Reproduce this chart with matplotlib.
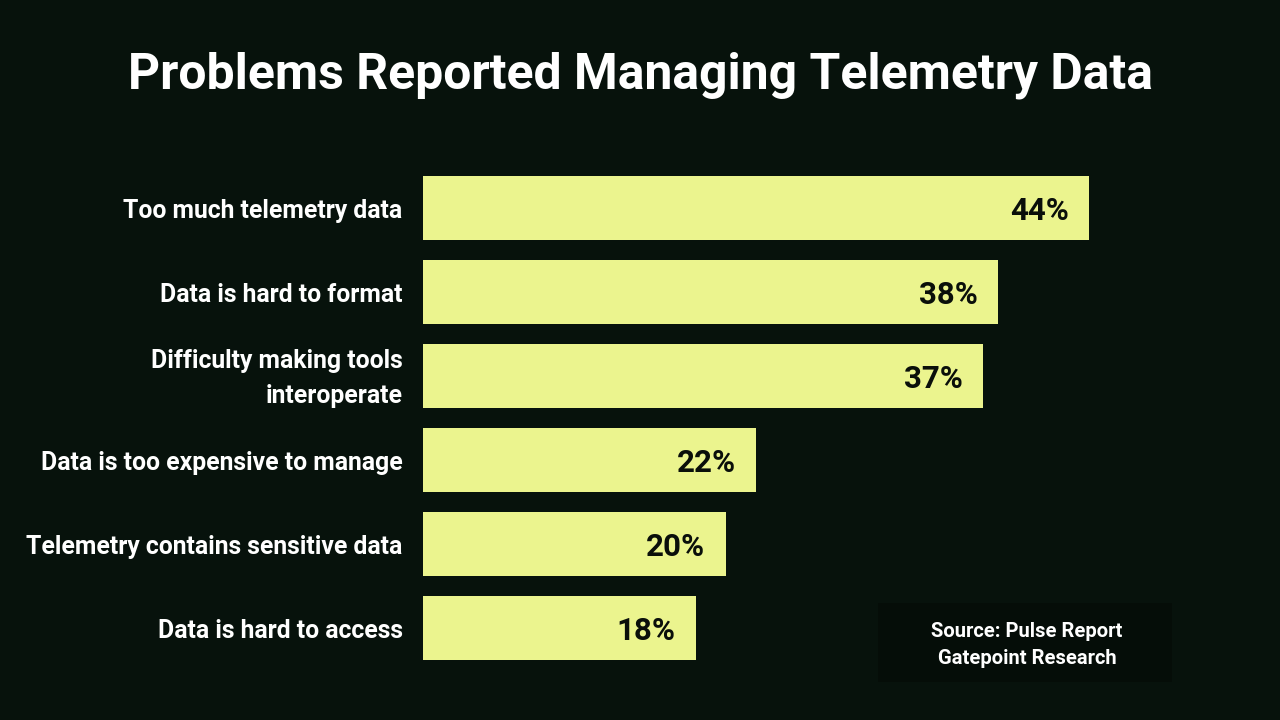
import matplotlib
matplotlib.use("Agg")
import matplotlib.pyplot as plt
from matplotlib.patches import Rectangle

categories = ["Too much telemetry data", "Data is hard to format",
              "Difficulty making tools\ninteroperate", "Data is too expensive to manage",
              "Telemetry contains sensitive data", "Data is hard to access"]
values = [44, 38, 37, 22, 20, 18]
value_labels = ["44%", "38%", "37%", "22%", "20%", "18%"]
title = "Problems Reported Managing Telemetry Data"
source_lines = "Source: Pulse Report\nGatepoint Research"

BG = "#07120c"
BAR = "#ebf48e"

plt.rcParams['font.family'] = ['Roboto', 'DejaVu Sans']

fig = plt.figure(figsize=(12.8, 7.2), dpi=100, facecolor=BG)
ax = fig.add_axes([423/1280, 1-670/720, 757/1280, 504/720])
ax.set_facecolor(BG)
ax.set_xlim(0, 50)
ax.set_ylim(len(values)-0.5, -0.5)

ys = list(range(len(values)))
ax.barh(ys, values, height=64/84, color=BAR, left=0)
for y, v, lab in zip(ys, values, value_labels):
    ax.text(v - 1.35, y + 0.03, lab, ha='right', va='center', fontsize=22.5,
            fontweight='bold', color='#0a0f0a')
for y, c in zip(ys, categories):
    ax.text(-1.35, y + 0.03, c, ha='right', va='center', fontsize=17.8,
            fontweight='bold', color='white', linespacing=1.55)

for s in ax.spines.values():
    s.set_visible(False)
ax.set_xticks([])
ax.set_yticks([])

fig.text(0.5, 1-75/720, title, ha='center', va='center', fontsize=35.9,
         fontweight='bold', color='white')

fig.patches.append(Rectangle((878/1280, 1-682/720), 294/1280, 79/720,
                             transform=fig.transFigure, facecolor='#050d08',
                             edgecolor='none', zorder=0))
fig.text(1027/1280, 1-645/720, source_lines, ha='center', va='center',
         fontsize=14.5, fontweight='bold', color='white', linespacing=1.55)

fig.savefig("out.png", dpi=100, facecolor=BG)
